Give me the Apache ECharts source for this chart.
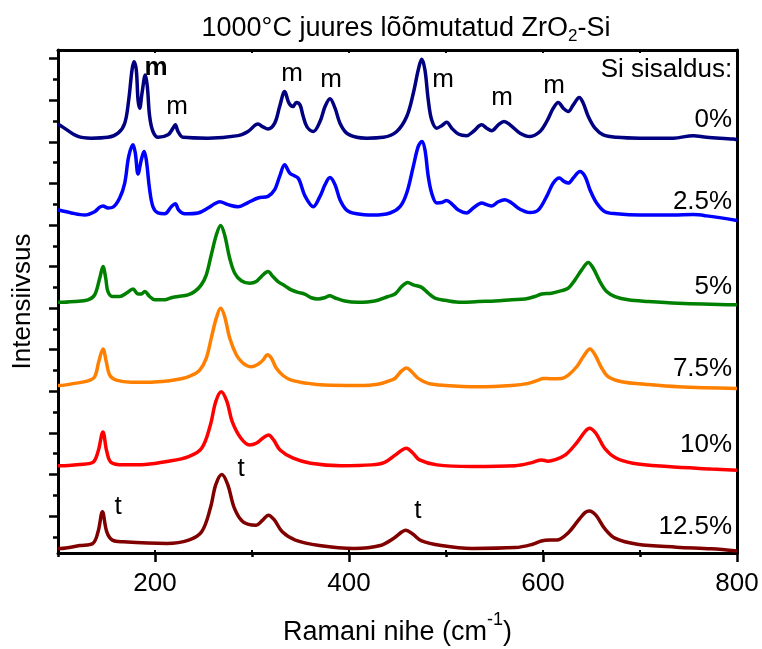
<!DOCTYPE html>
<html>
<head>
<meta charset="utf-8">
<script src="https://cdn.jsdelivr.net/npm/echarts@6/dist/echarts.min.js"></script>
<style>
  html, body { margin: 0; padding: 0; background: #fff; }
  #chart { width: 762px; height: 649px; }
</style>
</head>
<body>
<div id="chart"></div>
<script>
// Raman spectra of ZrO2-Si annealed at 1000 °C, offset vertically by Si content.
// Each spectrum: [Raman shift (cm^-1), intensity (offset, arb. units)]
const spectrum0 = [
  [100,10.32],[102.8,10.28],[120.6,10.02],[134.3,9.98],[151.5,10.0],[161.9,10.1],[168.8,10.34],
  [172.9,10.9],[176.3,11.62],[178.3,11.82],[180.7,11.62],[182.5,10.9],[184.2,10.7],[186.6,11.06],
  [190.0,11.5],[192.1,11.22],[194.5,10.5],[197.9,10.14],[203.1,10.0],[213.4,10.06],[218.6,10.22],
  [220.9,10.3],[223.7,10.14],[228.9,10.0],[254.6,9.98],[285.6,10.04],[295.9,10.14],[306.2,10.32],
  [311.3,10.25],[316.5,10.2],[323.4,10.34],[328.5,10.74],[333.7,11.1],[338.1,10.82],[342.3,10.74],
  [345.7,10.84],[349.5,10.78],[352.6,10.52],[356.7,10.25],[363.2,10.14],[370.1,10.38],[375.3,10.74],
  [380.4,10.93],[385.6,10.7],[390.7,10.34],[397.6,10.1],[407.9,10.0],[418.2,9.98],[435.4,10.0],
  [449.2,10.14],[459.5,10.5],[466.3,11.06],[471.4,11.62],[474.9,11.88],[478.3,11.62],[481.7,10.9],
  [485.2,10.42],[490.4,10.22],[495.6,10.28],[500.7,10.36],[505.9,10.22],[512.7,10.08],[521.3,10.04],
  [528.1,10.14],[536.8,10.3],[541.9,10.22],[547.1,10.16],[553.9,10.3],[559.8,10.38],[566.0,10.3],
  [576.3,10.1],[586.6,10.02],[596.9,10.14],[603.8,10.38],[610.6,10.7],[615.7,10.84],[620.9,10.7],
  [626.0,10.62],[631.2,10.78],[637.4,10.96],[641.5,10.82],[646.7,10.5],[653.6,10.22],[662.1,10.06],
  [675.9,10.0],[699.9,9.98],[734.3,9.98],[754.9,10.04],[768.7,10.0],[796.2,9.96],[800,9.94]
];
const spectrum1 = [
  [100,8.25],[102.8,8.24],[113.7,8.18],[127.5,8.13],[137.8,8.21],[143.0,8.32],[146.4,8.35],
  [151.5,8.3],[156.7,8.32],[163.6,8.54],[168.8,8.9],[172.9,9.54],[177.3,9.82],[179.7,9.62],
  [182.5,9.12],[185.9,9.46],[188.7,9.66],[191.0,9.46],[194.5,8.74],[197.9,8.33],[203.1,8.18],
  [210.0,8.16],[216.8,8.33],[220.9,8.4],[224.4,8.25],[230.6,8.16],[244.3,8.18],[254.6,8.3],
  [261.5,8.4],[266.7,8.45],[275.3,8.38],[285.6,8.33],[295.9,8.43],[306.2,8.54],[316.5,8.58],
  [323.4,8.74],[328.5,9.06],[333.7,9.34],[338.9,9.14],[344.0,9.07],[347.4,9.02],[349.5,8.93],
  [354.6,8.59],[363.2,8.33],[370.1,8.58],[375.3,8.86],[380.4,9.03],[385.6,8.86],[390.7,8.5],
  [397.6,8.25],[407.9,8.16],[425.0,8.13],[442.3,8.18],[452.6,8.33],[459.5,8.66],[466.3,9.3],
  [471.4,9.78],[475.2,9.9],[478.3,9.7],[481.7,9.06],[485.2,8.66],[490.4,8.42],[495.6,8.43],
  [500.7,8.48],[505.9,8.4],[512.7,8.25],[521.3,8.18],[528.1,8.3],[536.8,8.42],[541.9,8.38],
  [547.1,8.35],[553.9,8.45],[560.8,8.5],[567.7,8.42],[576.3,8.27],[586.6,8.19],[595.1,8.25],
  [603.8,8.58],[610.6,8.9],[616.8,9.02],[621.6,8.94],[626.1,8.9],[631.2,9.02],[638.1,9.18],
  [643.3,9.06],[648.4,8.74],[655.3,8.42],[663.9,8.21],[675.9,8.16],[699.9,8.13],[734.3,8.13],
  [754.9,8.14],[768.7,8.11],[800,8.0]
];
const spectrum2 = [
  [100,6.03],[101.8,6.03],[117.2,6.05],[130.9,6.09],[137.8,6.21],[143.0,6.61],[146.4,6.89],
  [149.2,6.61],[151.5,6.29],[156.7,6.17],[163.6,6.17],[170.4,6.25],[177.3,6.35],[182.5,6.23],
  [185.9,6.23],[189.4,6.29],[194.5,6.17],[199.7,6.09],[210.0,6.09],[216.8,6.14],[223.7,6.17],
  [234.0,6.21],[240.9,6.29],[247.7,6.45],[252.9,6.69],[258.0,7.17],[263.2,7.65],[267.7,7.88],
  [271.8,7.65],[277.0,7.09],[282.2,6.73],[289.0,6.55],[297.6,6.49],[304.4,6.53],[309.6,6.65],
  [316.5,6.77],[321.6,6.65],[326.8,6.53],[333.7,6.43],[340.5,6.33],[347.4,6.27],[354.3,6.23],
  [361.1,6.14],[368.0,6.11],[374.9,6.14],[380.1,6.19],[385.2,6.14],[395.6,6.06],[409.3,6.03],
  [426.5,6.06],[440.2,6.17],[447.4,6.23],[454.3,6.41],[460.5,6.51],[466.3,6.45],[474.9,6.39],
  [481.7,6.25],[488.6,6.13],[498.9,6.08],[516.1,6.03],[533.3,6.05],[550.5,6.06],[567.7,6.09],
  [581.4,6.11],[591.7,6.17],[598.6,6.23],[608.9,6.25],[619.3,6.31],[626.1,6.37],[633.0,6.57],
  [639.9,6.81],[646.7,6.99],[651.8,6.85],[658.7,6.53],[665.6,6.29],[674.2,6.17],[687.9,6.09],
  [708.5,6.05],[739.4,6.01],[800,5.97]
];
const spectrum3 = [
  [100,4.03],[101.8,4.03],[117.2,4.08],[130.9,4.14],[137.8,4.24],[142.0,4.6],[146.4,4.91],
  [149.8,4.6],[153.3,4.28],[160.1,4.16],[175.6,4.11],[196.2,4.11],[213.4,4.14],[227.1,4.19],
  [237.4,4.27],[246.1,4.4],[252.9,4.69],[258.0,5.17],[263.2,5.65],[267.7,5.89],[271.8,5.69],
  [277.0,5.17],[283.8,4.77],[290.7,4.57],[299.3,4.48],[306.2,4.54],[311.3,4.64],[315.8,4.77],
  [319.9,4.69],[325.0,4.45],[332.0,4.27],[340.5,4.16],[357.7,4.08],[374.9,4.04],[409.3,4.03],
  [429.9,4.06],[443.6,4.16],[447.4,4.2],[454.3,4.38],[459.5,4.45],[464.6,4.36],[471.4,4.2],
  [481.7,4.08],[499.0,4.03],[533.3,4.0],[567.7,4.03],[584.8,4.08],[595.1,4.16],[600.3,4.2],
  [608.9,4.19],[619.3,4.2],[626.1,4.28],[634.7,4.48],[641.5,4.72],[648.4,4.91],[653.6,4.77],
  [660.5,4.45],[667.3,4.24],[681.1,4.12],[705.1,4.06],[739.4,4.0],[800,3.96]
];
const spectrum4 = [
  [100,2.1],[102.3,2.1],[122.5,2.13],[135.9,2.18],[141.3,2.44],[146.3,2.91],[150.3,2.44],
  [154.7,2.18],[167.3,2.12],[189.8,2.13],[212.3,2.2],[234.7,2.32],[248.1,2.52],[257.1,3.08],
  [262.6,3.64],[268.3,3.88],[274.2,3.64],[279.6,3.16],[288.6,2.76],[297.5,2.6],[304.3,2.64],
  [311.0,2.76],[316.9,2.84],[322.3,2.72],[328.9,2.48],[342.5,2.28],[360.4,2.16],[391.8,2.1],
  [423.3,2.12],[436.8,2.18],[447.9,2.36],[454.7,2.48],[459.2,2.52],[466.0,2.4],[472.7,2.24],
  [490.6,2.12],[526.6,2.08],[571.4,2.1],[589.4,2.18],[598.3,2.24],[605.1,2.21],[611.8,2.24],
  [623.1,2.36],[634.3,2.64],[643.3,2.92],[647.8,3.0],[654.5,2.88],[663.5,2.52],[674.7,2.29],
  [692.6,2.16],[728.5,2.08],[773.5,2.02],[800,1.99]
];
const spectrum5 = [
  [100,0.11],[102.3,0.11],[122.5,0.18],[135.9,0.23],[141.3,0.51],[145.8,0.99],[150.3,0.51],
  [156.1,0.31],[167.3,0.27],[212.3,0.23],[234.7,0.31],[248.1,0.51],[257.1,1.08],[262.6,1.64],
  [268.9,1.89],[275.1,1.64],[281.8,1.08],[290.8,0.75],[304.3,0.67],[311.0,0.79],[316.9,0.91],
  [323.2,0.79],[331.2,0.51],[344.7,0.31],[369.4,0.18],[405.3,0.11],[432.3,0.18],[445.8,0.35],
  [454.7,0.51],[458.3,0.55],[466.0,0.45],[474.9,0.29],[495.1,0.18],[526.6,0.11],[571.4,0.13],
  [589.4,0.21],[598.3,0.29],[607.4,0.31],[614.1,0.31],[625.3,0.47],[636.6,0.79],[643.3,0.97],
  [647.8,1.01],[654.5,0.91],[663.5,0.59],[674.7,0.35],[697.2,0.21],[737.6,0.14],[773.5,0.1],
  [800,0.05]
];

const seriesNames = ['0%', '2.5%', '5%', '7.5%', '10%', '12.5%'];
const seriesColors = ['#000080', '#0000ff', '#008000', '#ff8000', '#ff0000', '#800000'];
const spectra = [spectrum0, spectrum1, spectrum2, spectrum3, spectrum4, spectrum5];

// Phase markers: m = monoclinic, t = tetragonal  [shift, intensity, text]
const phaseMarks = [
  [201, 11.67, 'm'], [222.7, 10.73, 'm'], [341.2, 11.53, 'm'], [381.4, 11.38, 'm'],
  [496.9, 11.38, 'm'], [557.7, 10.95, 'm'], [611.3, 11.24, 'm'],
  [161.9, 1.11, 't'], [288.7, 2.02, 't'], [471.1, 1.01, 't']
];
// Si content labels, right-aligned near the right edge  [shift, intensity, text]
const contentLabels = [
  [795, 11.62, 'Si sisaldus:'], [795, 10.42, '0%'], [795, 8.44, '2.5%'], [795, 6.41, '5%'],
  [795, 4.43, '7.5%'], [795, 2.6, '10%'], [795, 0.63, '12.5%']
];

const xMajorTicks = [200, 400, 600, 800];
const xMinorTicks = [100, 300, 500, 700];
const xInnerTicks = [200, 300, 400, 500, 600, 700];
const yMajorTicks = [0.89, 1.89, 2.89, 3.89, 4.89, 5.89, 6.89, 7.89, 8.89, 9.89, 10.89, 11.89];
const yMinorTicks = [0.39, 1.39, 2.39, 3.39, 4.39, 5.39, 6.39, 7.39, 8.39, 9.39, 10.39, 11.39];

const FONT = "'Liberation Sans', Arial, sans-serif";
const X_MIN = 100, X_MAX = 800, Y_MIN = 0, Y_MAX = 12.1;

const chart = echarts.init(document.getElementById('chart'), null, { renderer: 'canvas' });

function plainX(extra) {
  return Object.assign({
    type: 'value', min: X_MIN, max: X_MAX, gridIndex: 0,
    axisLine: { show: false }, axisLabel: { show: false },
    splitLine: { show: false }, axisTick: { show: false }
  }, extra);
}
function plainY(extra) {
  return Object.assign({
    type: 'value', min: Y_MIN, max: Y_MAX, gridIndex: 0,
    axisLine: { show: false }, axisLabel: { show: false },
    splitLine: { show: false }, axisTick: { show: false }
  }, extra);
}

const lineSeries = spectra.map((data, i) => ({
  name: seriesNames[i],
  type: 'line',
  data: data,
  xAxisIndex: 0, yAxisIndex: 0,
  smooth: 0.35,
  showSymbol: false,
  symbol: 'none',
  lineStyle: { color: seriesColors[i], width: 3.5 },
  z: 3,
  animation: false
}));

// Text annotations placed at data coordinates through a custom series
function textSeries(items, align, boldFirst) {
  return {
    type: 'custom',
    xAxisIndex: 0, yAxisIndex: 0,
    silent: true,
    z: 5,
    clip: false,
    data: items.map(d => [d[0], d[1]]),
    renderItem: function (params, api) {
      const p = api.coord([api.value(0), api.value(1)]);
      const bold = boldFirst && params.dataIndex === 0;
      return {
        type: 'text',
        x: p[0], y: p[1],
        style: {
          text: items[params.dataIndex][2],
          fontFamily: FONT, fontSize: 26,
          fontWeight: bold ? 'bold' : 'normal',
          fill: '#000',
          align: align, verticalAlign: 'middle'
        }
      };
    }
  };
}

const option = {
  animation: false,
  backgroundColor: '#ffffff',
  grid: { left: 58, right: 25, top: 50, bottom: 96, containLabel: false, outerBoundsMode: 'none' },
  graphic: [{
    type: 'text',
    x: 406, y: 29,
    style: {
      text: '1000°C juures lõõmutatud ZrO{sub|2}-Si',
      fontFamily: FONT, fontSize: 27, fill: '#000',
      lineHeight: 32,
      align: 'center', verticalAlign: 'middle',
      rich: { sub: { fontFamily: FONT, fontSize: 17, fill: '#000', verticalAlign: 'bottom', lineHeight: 32 } }
    }
  }],
  xAxis: [
    plainX({
      position: 'bottom',
      axisLine: { show: true, onZero: false, lineStyle: { color: '#000', width: 3 } },
      axisTick: { show: true, length: 9, customValues: xMajorTicks, lineStyle: { color: '#000', width: 2.5 } },
      axisLabel: { show: true, customValues: xMajorTicks, fontFamily: FONT, fontSize: 26, color: '#000', margin: 18 },
      name: 'Ramani nihe (cm{sup|-1})',
      nameLocation: 'middle',
      nameGap: 58,
      nameTextStyle: {
        fontFamily: FONT, fontSize: 27, color: '#000', lineHeight: 44,
        rich: { sup: { fontFamily: FONT, fontSize: 18, color: '#000', verticalAlign: 'top', lineHeight: 44 } }
      }
    }),
    plainX({
      position: 'bottom',
      axisTick: { show: true, length: 4, customValues: xMinorTicks, lineStyle: { color: '#000', width: 2.5 } }
    }),
    plainX({
      position: 'bottom',
      axisTick: { show: true, inside: true, length: 3, customValues: xInnerTicks, lineStyle: { color: '#000', width: 2 } }
    }),
    plainX({
      position: 'top',
      axisLine: { show: true, onZero: false, lineStyle: { color: '#000', width: 3 } },
      axisTick: { show: true, inside: true, length: 3, customValues: xInnerTicks, lineStyle: { color: '#000', width: 2 } }
    })
  ],
  yAxis: [
    plainY({
      position: 'left',
      axisLine: { show: true, onZero: false, lineStyle: { color: '#000', width: 3 } },
      axisTick: { show: true, length: 9, customValues: yMajorTicks, lineStyle: { color: '#000', width: 2.5 } },
      name: 'Intensiivsus',
      nameLocation: 'middle',
      nameGap: 22,
      nameTextStyle: { fontFamily: FONT, fontSize: 26, color: '#000' }
    }),
    plainY({
      position: 'left',
      axisTick: { show: true, length: 5, customValues: yMinorTicks, lineStyle: { color: '#000', width: 2.5 } }
    }),
    plainY({
      position: 'right',
      axisLine: { show: true, onZero: false, lineStyle: { color: '#000', width: 3 } }
    })
  ],
  series: lineSeries.concat([
    textSeries(phaseMarks, 'center', true),
    textSeries(contentLabels, 'right', false)
  ])
};

chart.setOption(option);
</script>
</body>
</html>
